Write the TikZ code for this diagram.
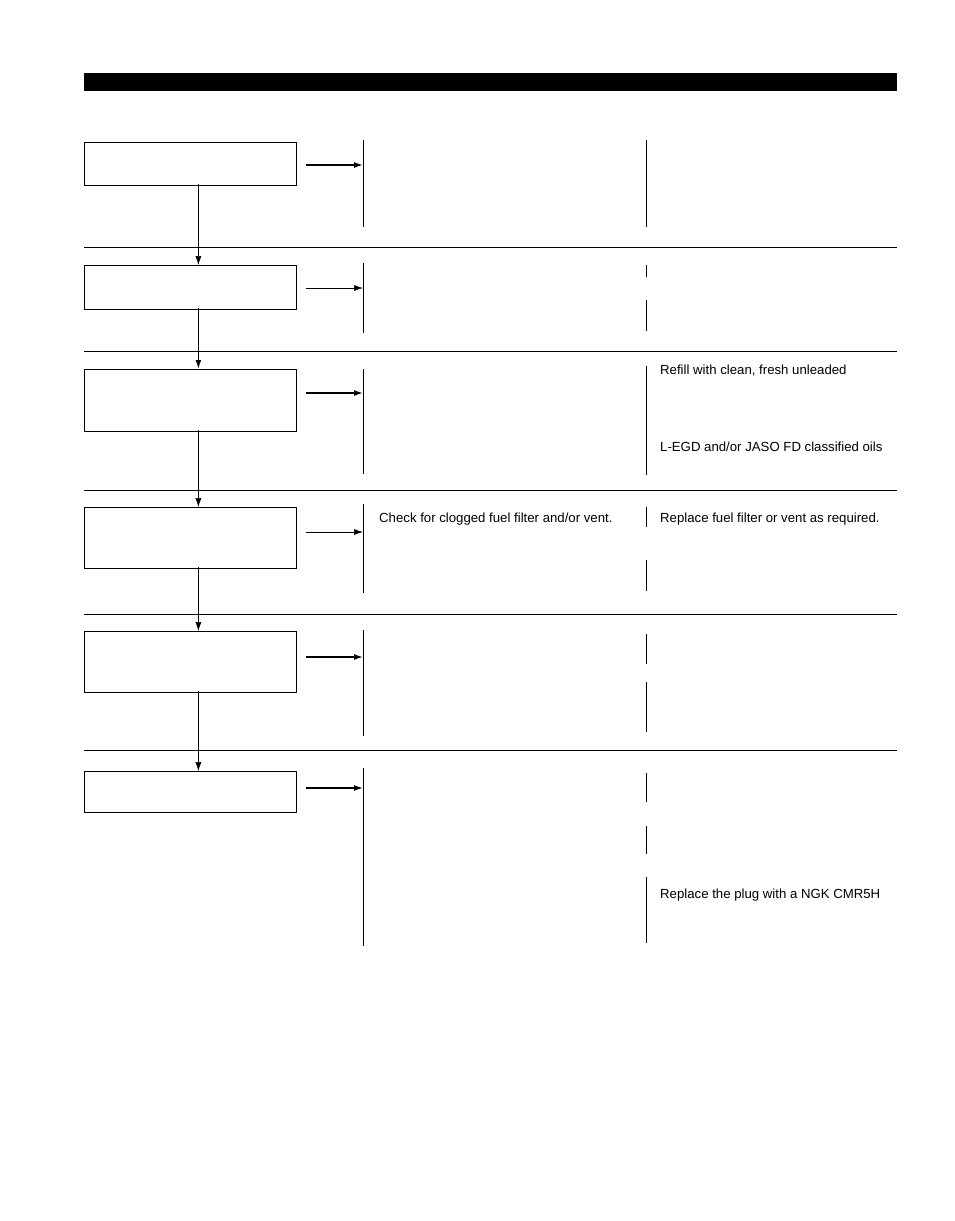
\documentclass[tikz,border=0pt]{standalone}
\usepackage{fontspec}
\setmainfont{Liberation Sans}
\usetikzlibrary{calc,arrows.meta}
\tikzset{
  stepbox/.style={draw, line width=0.8pt, minimum width=212pt, anchor=north west, inner sep=0pt},
  sepline/.style={line width=0.7pt},
  colline/.style={line width=0.7pt},
  thickarr/.style={-{Latex[length=9pt,width=6pt]}, line width=1.5pt},
  thinarr/.style={-{Latex[length=9pt,width=6pt]}, line width=0.6pt},
  downarr/.style={-{Latex[length=9pt,width=6pt]}, line width=0.6pt},
  lab/.style={anchor=west, font=\fontsize{13.2}{15}\selectfont, inner sep=0pt}
}
\begin{document}
\begin{tikzpicture}[x=1pt, y=-1pt]
  \useasboundingbox (0,0) rectangle (954,1221);
  \fill (84,73) rectangle (897,91);

  % step boxes
  \node[stepbox, minimum height=43pt] (s1) at (84,142) {};
  \node[stepbox, minimum height=44pt] (s2) at (84,265) {};
  \node[stepbox, minimum height=62pt] (s3) at (84,369) {};
  \node[stepbox, minimum height=61pt] (s4) at (84,507) {};
  \node[stepbox, minimum height=61pt] (s5) at (84,631) {};
  \node[stepbox, minimum height=41pt] (s6) at (84,771) {};

  % separators
  \foreach \y in {247,351,490,614,750}
    \draw[sepline] (84,\y) -- (897,\y);

  % middle columns
  \foreach \a/\b in {140/227,263/333,369/474,504/593,630/736,768/946}
    \draw[colline] (363,\a) -- (363,\b);
  % right columns
  \foreach \a/\b in {140/227,265/277,300/331,366/475,507/527,560/591,634/664,682/732,773/802,826/854,877/943}
    \draw[colline] (646,\a) -- (646,\b);

  % arrows to the check column
  \foreach \n/\y/\s in {1/165/thickarr,2/288/thinarr,3/393/thickarr,4/532/thinarr,5/657/thickarr,6/788/thickarr}{
    \coordinate (a\n) at (306,\y);
    \coordinate (b\n) at (363,\y);
    \draw[\s] (a\n) -- (b\n);
  }

  % arrows between steps
  \draw[downarr] ($(s1.south)+(8,-2)$) -- ($(s2.north)+(8,0)$);
  \draw[-{Latex[length=9pt,width=6pt]}, line width=1.5pt] ($(s2.south)+(8,-2)$) -- ($(s3.north)+(8,0)$);
  \draw[downarr] ($(s3.south)+(8,-2)$) -- ($(s4.north)+(8,0)$);
  \draw[downarr] ($(s4.south)+(8,-2)$) -- ($(s5.north)+(8,0)$);
  \draw[downarr] ($(s5.south)+(8,-2)$) -- ($(s6.north)+(8,0)$);

  % texts
  \node[lab] (t1) at (660,371) {Refill with clean, fresh unleaded};
  \node[lab] (t2) at (660,447) {L-EGD and/or JASO FD classified oils};
  \node[lab] (t3) at (379,519) {Check for clogged fuel filter and/or vent.};
  \node[lab] (t4) at (660,519) {Replace fuel filter or vent as required.};
  \node[lab] (t5) at (660,895) {Replace the plug with a NGK CMR5H};
\end{tikzpicture}
\end{document}
